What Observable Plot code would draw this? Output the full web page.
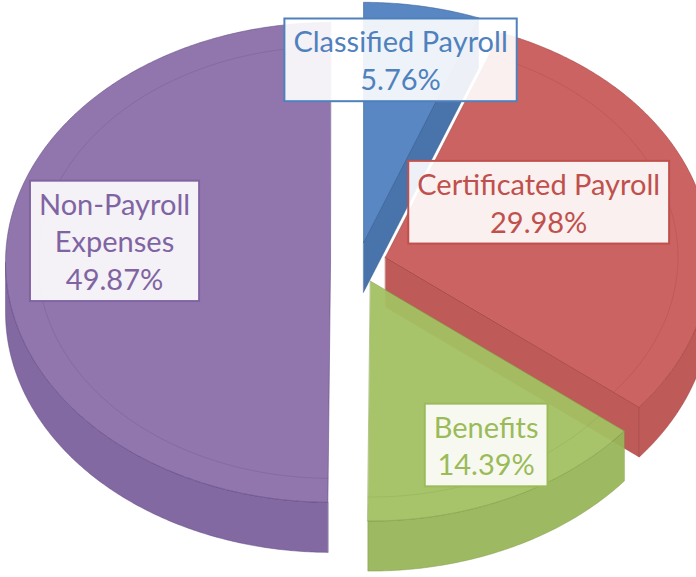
<!DOCTYPE html>
<html><head><meta charset="utf-8">
<script src="https://cdn.jsdelivr.net/npm/d3@7"></script>
<script src="https://cdn.jsdelivr.net/npm/@observablehq/plot@0.6"></script>
<style>html,body{margin:0;padding:0;background:#fff;overflow:hidden;}</style>
</head><body><div id="chart"></div>
<script>
// ---- data ----
const categories = ["Classified Payroll", "Certificated Payroll", "Benefits", "Non-Payroll Expenses"];
const shares = [5.76, 29.98, 14.39, 49.87];
const valueLabels = ["5.76%", "29.98%", "14.39%", "49.87%"];
const labelNames = ["Classified Payroll", "Certificated Payroll", "Benefits", "Non-Payroll\nExpenses"];
// ---- styles ----
const topColors = ["#4f81c0", "#c75b58", "#a3c163", "#8a6fa8"];
const wallColors = ["#3f6ca6", "#bb524f", "#98b65a", "#7c619d"];
const edgeColors = ["#355d90", "#a0403d", "#7f9a45", "#5f4680"];
const textColors = ["#4f81bd", "#c0504d", "#9bbb59", "#8064a2"];
const labelAngle = [8.5, 63.9, 152.4, 277.9];   // degrees, clockwise from top
const labelRadius = [0.771, 0.525, 0.768, 0.671];
const drawOrder = [0, 3, 1, 2];
const tilt = 0.738, depth = 0.154, explode = 0.086, bevel = 0.9;

const total = d3.sum(shares);
let acc = 0;
const slices = shares.map((s, i) => {
  const a0 = acc / total * 2 * Math.PI; acc += s;
  const a1 = acc / total * 2 * Math.PI;
  const mid = (a0 + a1) / 2;
  return {i, a0, a1, mid, ox: explode * Math.sin(mid), oy: explode * Math.cos(mid)};
});

const P = (s, ang, z, r = 1) => ({x: s.ox + r * Math.sin(ang), y: tilt * (s.oy + r * Math.cos(ang)) - z});
const O = (s, z) => ({x: s.ox, y: tilt * s.oy - z});
const arc = (s, lo, hi, z, r = 1) => {
  const n = Math.max(2, Math.ceil((hi - lo) / (Math.PI / 360)));
  return d3.range(n + 1).map(k => P(s, lo + (hi - lo) * k / n, z, r));
};

const marks = [];
const poly = (pts, fill, stroke, sw) => marks.push(Plot.line(pts, {
  x: "x", y: "y", curve: "linear-closed",
  fill, fillOpacity: 0.95, stroke, strokeWidth: sw, strokeOpacity: 0.6
}));
for (const i of drawOrder) {
  const s = slices[i];
  // radial cut faces
  if (Math.cos(s.a0 - Math.PI / 2) < -0.02)
    poly([O(s, 0), P(s, s.a0, 0), P(s, s.a0, depth), O(s, depth)], wallColors[i], edgeColors[i], 0.8);
  if (Math.cos(s.a1 + Math.PI / 2) < -0.02)
    poly([O(s, 0), P(s, s.a1, 0), P(s, s.a1, depth), O(s, depth)], wallColors[i], edgeColors[i], 0.8);
  // outer curved wall (front half)
  const lo = Math.max(s.a0, Math.PI / 2), hi = Math.min(s.a1, 3 * Math.PI / 2);
  if (hi > lo)
    poly([...arc(s, lo, hi, 0), ...arc(s, lo, hi, depth).reverse()], wallColors[i], edgeColors[i], 0.8);
  // top face
  poly([O(s, 0), ...arc(s, s.a0, s.a1, 0)], topColors[i], edgeColors[i], 0.9);
  // faint bevel line on the top face
  marks.push(Plot.line(arc(s, s.a0, s.a1, 0, bevel), {
    x: "x", y: "y", stroke: edgeColors[i], strokeOpacity: 0.25, strokeWidth: 1
  }));
}

slices.forEach(s => {
  const a = labelAngle[s.i] * Math.PI / 180, r = labelRadius[s.i];
  marks.push(Plot.text([s], {
    x: d => d.ox + r * Math.sin(a),
    y: d => tilt * (d.oy + r * Math.cos(a)),
    text: d => labelNames[d.i] + "\n" + valueLabels[d.i],
    fill: textColors[s.i], fontSize: 29, fontFamily: "Lato, sans-serif",
    lineHeight: 1.3, textAnchor: "middle"
  }));
});

const chart = Plot.plot({
  width: 696, height: 577, margin: 0,
  x: {domain: [-1.1015, 1.04], axis: null},
  y: {domain: [-0.969, 0.806], axis: null},
  marks
});
document.getElementById("chart").append(chart);

// label boxes behind the text
const groups = chart.querySelectorAll('g[aria-label="text"]');
groups.forEach((g, gi) => {
  g.querySelectorAll("text").forEach(t => {
    const b = t.getBBox();
    const rect = document.createElementNS("http://www.w3.org/2000/svg", "rect");
    const px = 9, py = 5;
    rect.setAttribute("x", b.x - px);
    rect.setAttribute("y", b.y - py);
    rect.setAttribute("width", b.width + 2 * px);
    rect.setAttribute("height", b.height + 2 * py);
    if (t.getAttribute("transform")) rect.setAttribute("transform", t.getAttribute("transform"));
    rect.setAttribute("fill", "#ffffff");
    rect.setAttribute("fill-opacity", 0.9);
    rect.setAttribute("stroke", textColors[gi]);
    rect.setAttribute("stroke-width", 2);
    g.insertBefore(rect, t);
  });
});
</script>
</body></html>
